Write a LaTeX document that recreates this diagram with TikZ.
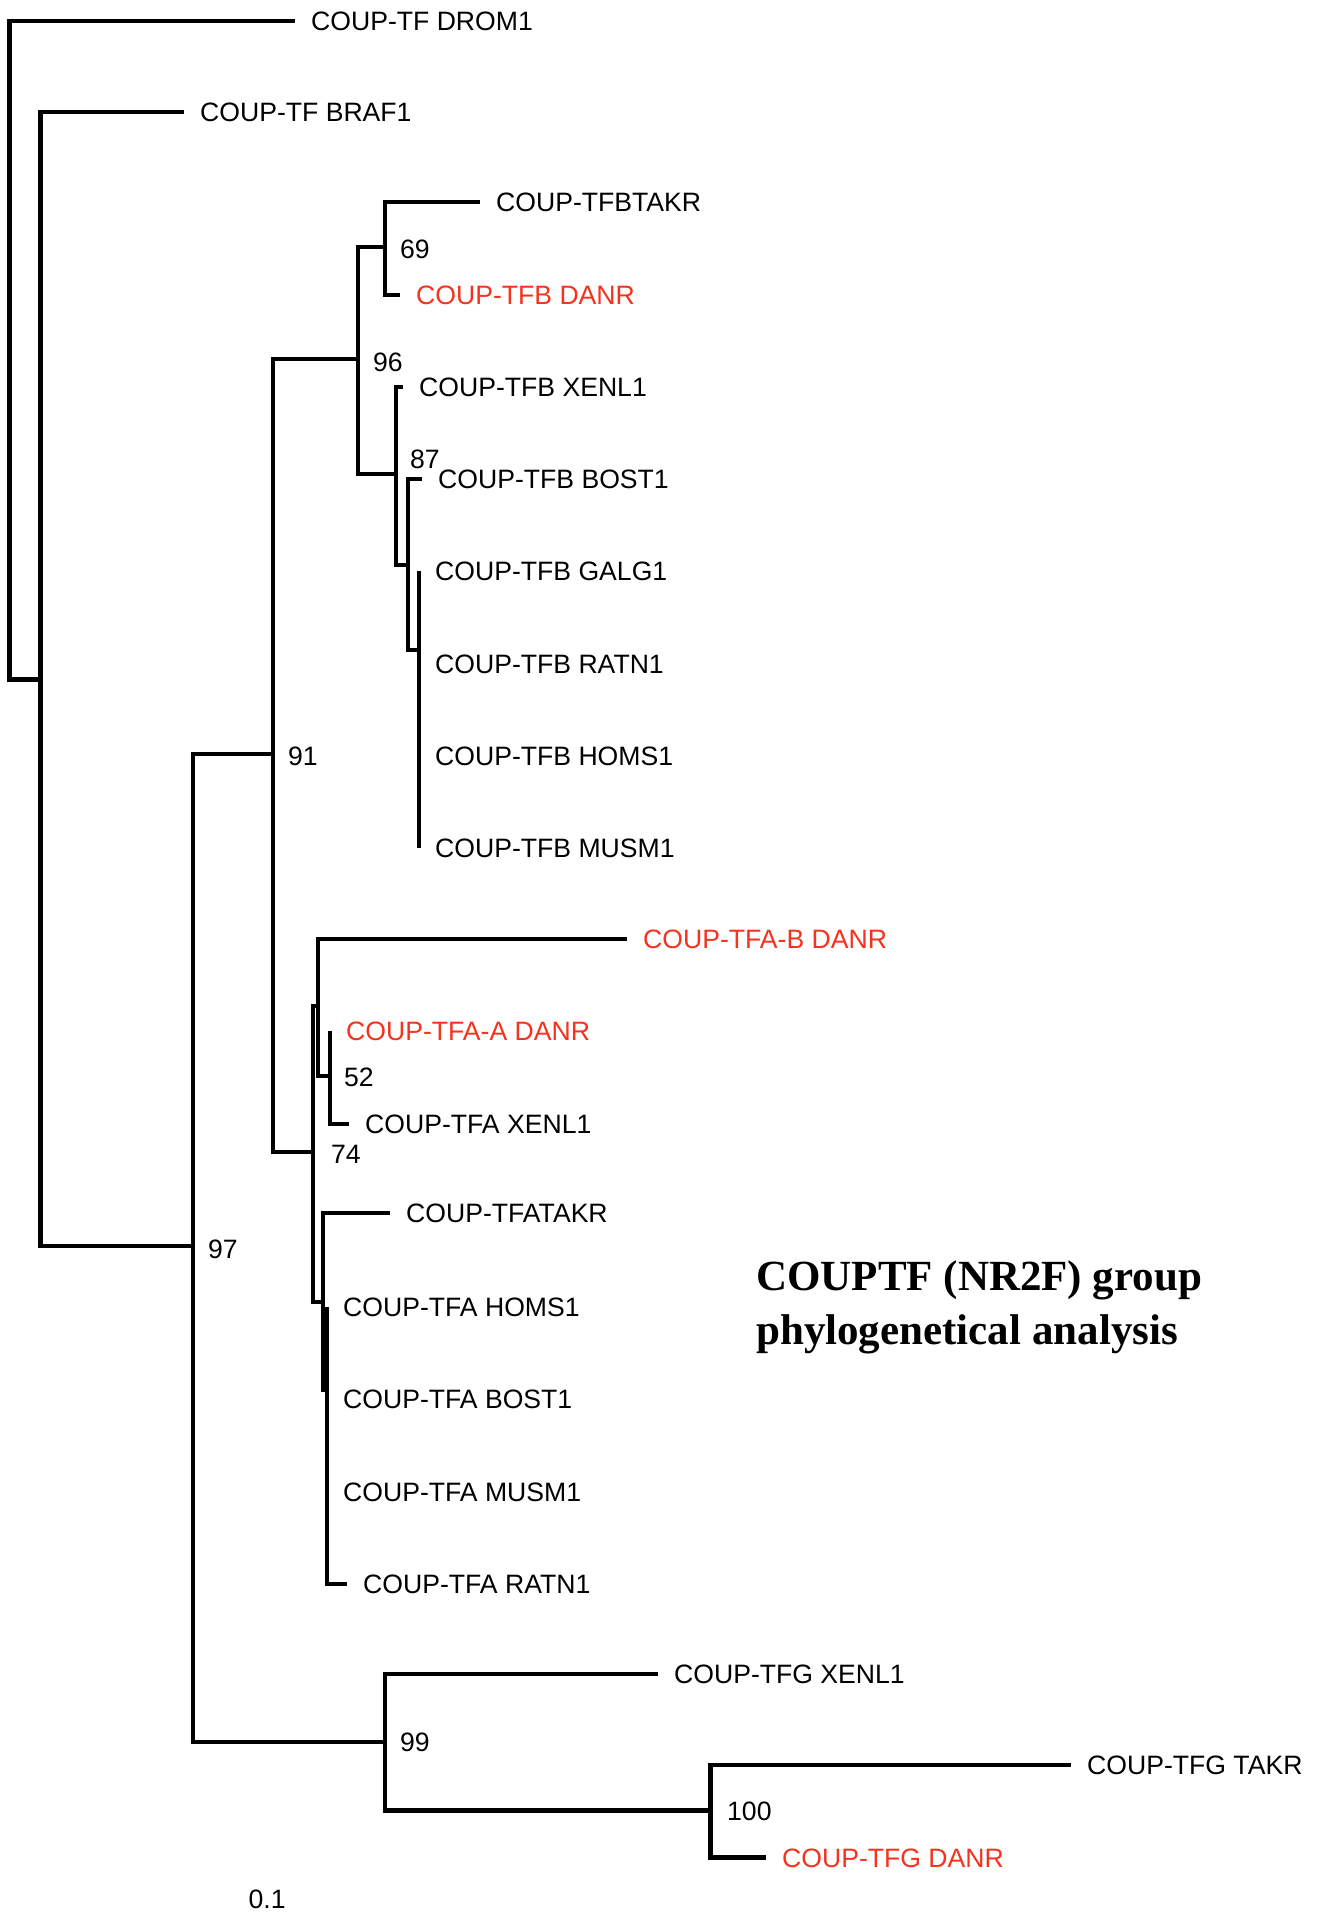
\documentclass[tikz,border=0pt]{standalone}
\usepackage{fontspec}
\setmainfont{Liberation Sans}
\newfontfamily\titlefont{Liberation Serif}
\usetikzlibrary{positioning}
\definecolor{danred}{RGB}{245,50,30}
\begin{document}
\begin{tikzpicture}[x=1pt,y=-1pt,
  br/.style={line width=4.8pt, line join=miter},
  lab/.style={font=\fontsize{26.6}{26.6}\selectfont, inner sep=0pt, text height=19pt, text depth=0pt, anchor=west},
  dan/.style={text=danred},
  ttl/.style={anchor=base west, inner sep=0pt, font=\titlefont\bfseries\fontsize{43}{58}\selectfont}]
\useasboundingbox (0,0) rectangle (1324,1915);
% internal nodes and branch ends
\coordinate (root) at (9.5,350);
\coordinate (e0) at (295,21);
\coordinate (nB) at (40.5,679.5);
\coordinate (e1) at (184,112);
\coordinate (n97) at (193,1246);
\coordinate (n91) at (273,754);
\coordinate (n96) at (358,359);
\coordinate (n69) at (385,247);
\coordinate (e2) at (480,202);
\coordinate (e3) at (400,295);
\coordinate (nX) at (396,474);
\coordinate (e4) at (403,387);
\coordinate (n87) at (408,565);
\coordinate (e5) at (422,479);
\coordinate (nM) at (419,650);
\coordinate (e6) at (419,571);
\coordinate (e7) at (419,664);
\coordinate (e8) at (419,756);
\coordinate (e9) at (419,848);
\coordinate (n74) at (313,1152);
\coordinate (nP) at (318,1006);
\coordinate (e10) at (627,939);
\coordinate (n52) at (330,1076);
\coordinate (e11) at (330,1031);
\coordinate (e12) at (349,1124);
\coordinate (nT) at (323,1302);
\coordinate (e13) at (390,1213);
\coordinate (nH) at (327,1390);
\coordinate (e14) at (327,1307);
\coordinate (e15) at (327,1399);
\coordinate (e16) at (327,1492);
\coordinate (e17) at (347,1584);
\coordinate (n99) at (385,1742);
\coordinate (e18) at (658,1674);
\coordinate (n100) at (710.5,1810.5);
\coordinate (e19) at (1071,1765);
\coordinate (e20) at (766,1857.5);
% branches
\draw[br] (root) |- (e0);
\draw[br] (root) |- (nB);
\draw[br] (nB) |- (e1);
\draw[br] (nB) |- (n97);
\draw[br] (n97) |- (n91);
\draw[br] (n97) |- (n99);
\draw[br] (n91) |- (n96);
\draw[br] (n91) |- (n74);
\draw[br] (n96) |- (n69);
\draw[br] (n96) |- (nX);
\draw[br] (n69) |- (e2);
\draw[br] (n69) |- (e3);
\draw[br] (nX) |- (e4);
\draw[br] (nX) |- (n87);
\draw[br] (n87) |- (e5);
\draw[br] (n87) |- (nM);
\draw[br] (nM) |- (e6);
\draw[br] (nM) |- (e9);
\draw[br] (n74) |- (nP);
\draw[br] (n74) |- (nT);
\draw[br] (nP) |- (e10);
\draw[br] (nP) |- (n52);
\draw[br] (n52) |- (e11);
\draw[br] (n52) |- (e12);
\draw[br] (nT) |- (e13);
\draw[br] (nT) |- (nH);
\draw[br] (nH) |- (e14);
\draw[br] (nH) |- (e17);
\draw[br] (n99) |- (e18);
\draw[br] (n99) |- (n100);
\draw[br] (n100) |- (e19);
\draw[br] (n100) |- (e20);
% leaf labels
\node[lab, right=16pt of e0] (t0) {COUP-TF DROM1};
\node[lab, right=16pt of e1] (t1) {COUP-TF BRAF1};
\node[lab, right=16pt of e2] (t2) {COUP-TFBTAKR};
\node[lab, dan, right=16pt of e3] (t3) {COUP-TFB DANR};
\node[lab, right=16pt of e4] (t4) {COUP-TFB XENL1};
\node[lab, right=16pt of e5] (t5) {COUP-TFB BOST1};
\node[lab, right=16pt of e6] (t6) {COUP-TFB GALG1};
\node[lab, right=16pt of e7] (t7) {COUP-TFB RATN1};
\node[lab, right=16pt of e8] (t8) {COUP-TFB HOMS1};
\node[lab, right=16pt of e9] (t9) {COUP-TFB MUSM1};
\node[lab, dan, right=16pt of e10] (t10) {COUP-TFA-B DANR};
\node[lab, dan, right=16pt of e11] (t11) {COUP-TFA-A DANR};
\node[lab, right=16pt of e12] (t12) {COUP-TFA XENL1};
\node[lab, right=16pt of e13] (t13) {COUP-TFATAKR};
\node[lab, right=16pt of e14] (t14) {COUP-TFA HOMS1};
\node[lab, right=16pt of e15] (t15) {COUP-TFA BOST1};
\node[lab, right=16pt of e16] (t16) {COUP-TFA MUSM1};
\node[lab, right=16pt of e17] (t17) {COUP-TFA RATN1};
\node[lab, right=16pt of e18] (t18) {COUP-TFG XENL1};
\node[lab, right=16pt of e19] (t19) {COUP-TFG TAKR};
\node[lab, dan, right=16pt of e20] (t20) {COUP-TFG DANR};
% bootstrap values
\node[lab] (b69) at (400,249) {69};
\node[lab] (b96) at (373,361.5) {96};
\node[lab] (b91) at (288,756) {91};
\node[lab] (b97) at (208,1249) {97};
\node[lab] (b87) at (410,458.5) {87};
\node[lab] (b52) at (344,1076.5) {52};
\node[lab] (b74) at (331,1154) {74};
\node[lab] (b99) at (400,1742) {99};
\node[lab] (b100) at (727,1811) {100};
\node[lab] (scl) at (248.5,1899) {0.1};
% title
\node[ttl] (title1) at (756,1290) {COUPTF (NR2F) group};
\node[ttl] (title2) at (756,1344) {phylogenetical analysis};
\end{tikzpicture}
\end{document}
